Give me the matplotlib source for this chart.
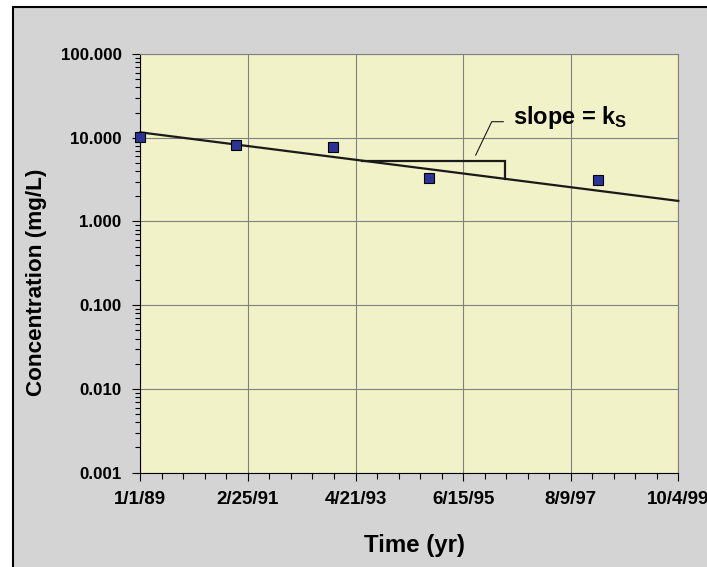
import matplotlib
matplotlib.use('Agg')
import matplotlib.pyplot as plt
import matplotlib.dates as mdates
from matplotlib.ticker import LogLocator, FixedLocator, FixedFormatter, NullFormatter
from matplotlib.patches import Rectangle
import numpy as np

# ---------------- data ----------------
sample_dates = ['1989-01-01', '1990-12-01', '1992-11-10', '1994-10-10', '1998-02-25']
concentration = [10.3, 8.19, 7.69, 3.33, 3.15]
trend_dates = ['1989-01-01', '1999-10-04']
trend_values = [11.6, 1.76]
triangle_dates = ['1993-06-05', '1996-04-19']
x_tick_labels = ['1/1/89', '2/25/91', '4/21/93', '6/15/95', '8/9/97', '10/4/99']
y_tick_values = [0.001, 0.01, 0.1, 1, 10, 100]
y_tick_labels = ['0.001', '0.010', '0.100', '1.000', '10.000', '100.000']
x_title = 'Time (yr)'
y_title = 'Concentration (mg/L)'
annotation_text = r'slope = k$_{\mathrm{S}}$'

# ---------------- style ----------------
plt.rcParams['font.family'] = ['Liberation Sans', 'DejaVu Sans']
plt.rcParams['font.weight'] = 'bold'
plt.rcParams['mathtext.fontset'] = 'custom'
plt.rcParams['mathtext.rm'] = 'Liberation Sans:bold'
plt.rcParams['mathtext.bf'] = 'Liberation Sans:bold'
plt.rcParams['mathtext.it'] = 'Liberation Sans:bold'

W, H = 707, 567
fig = plt.figure(figsize=(W / 100, H / 100), dpi=100, facecolor='white')

# chart-area frame (extends beyond right/bottom edges)
fig.patches.append(Rectangle((13 / W, -0.1), 1.2, 1 - 7 / H + 0.1,
                             transform=fig.transFigure, facecolor='#D4D4D4',
                             edgecolor='black', linewidth=1.5, zorder=-10))

L, R, T, B = 140.3, 678.3, 54.0, 472.7
ax = fig.add_axes([L / W, 1 - B / H, (R - L) / W, (B - T) / H])
ax.set_facecolor('#F2F2C8')

xd = mdates.date2num(np.array(sample_dates, dtype='datetime64[D]'))
td = mdates.date2num(np.array(trend_dates, dtype='datetime64[D]'))
x0, x1 = td[0], td[1]

ax.set_yscale('log')
ax.set_xlim(x0, x1)
ax.set_ylim(y_tick_values[0], y_tick_values[-1])

# ticks
ax.xaxis.set_major_locator(FixedLocator(np.linspace(x0, x1, len(x_tick_labels))))
ax.xaxis.set_major_formatter(FixedFormatter(x_tick_labels))
ax.xaxis.set_minor_locator(FixedLocator(np.linspace(x0, x1, 5 * (len(x_tick_labels) - 1) + 1)))
ax.yaxis.set_major_locator(FixedLocator(y_tick_values))
ax.yaxis.set_major_formatter(FixedFormatter(y_tick_labels))
ax.yaxis.set_minor_locator(LogLocator(base=10, subs=np.arange(2, 10), numticks=20))
ax.yaxis.set_minor_formatter(NullFormatter())

ax.tick_params(axis='x', which='major', direction='out', length=6, width=0.8,
               labelsize=13.5, pad=7, color='black')
ax.tick_params(axis='x', which='minor', direction='out', length=4, width=0.8, color='black')
ax.tick_params(axis='y', which='major', direction='out', length=5.5, width=0.8,
               labelsize=12.2, pad=8, color='black')
ax.tick_params(axis='y', which='minor', direction='out', length=3.5, width=0.8, color='black')
for lab in ax.get_xticklabels() + ax.get_yticklabels():
    lab.set_fontweight('bold')

ax.grid(True, which='major', color='#808080', linewidth=0.8)
ax.set_axisbelow(True)
for s in ['left', 'bottom']:
    ax.spines[s].set_color('black')
    ax.spines[s].set_linewidth(0.8)
for s in ['top', 'right']:
    ax.spines[s].set_color('#808080')
    ax.spines[s].set_linewidth(0.8)

# trend line
ax.plot(td, trend_values, color='#1a1a1a', linewidth=1.6, zorder=4, clip_on=False)

# data points
ax.plot(xd, concentration, linestyle='none', marker='s', markersize=7.8,
        markerfacecolor='#2B3399', markeredgecolor='black', markeredgewidth=0.8,
        zorder=5, clip_on=False)

# slope triangle, anchored to the trend line
trd = mdates.date2num(np.array(triangle_dates, dtype='datetime64[D]'))
logt = np.interp(trd, td, np.log10(trend_values))
tv = 10 ** logt
ax.plot([trd[0], trd[1], trd[1]], [tv[0], tv[0], tv[1]], color='#1a1a1a',
        linewidth=1.6, zorder=4, solid_joinstyle='miter')

# leader line and label
ax.plot([0.6234, 0.6532, 0.6747], [0.7585, 0.8383, 0.8383], transform=ax.transAxes,
        color='#1a1a1a', linewidth=0.8, zorder=4)
ax.text(0.6933, 0.8328, annotation_text, transform=ax.transAxes, fontsize=17,
        fontweight='bold', ha='left', va='baseline', color='black', zorder=6)

# axis titles
fig.text(414.2 / W, 1 - 551.7 / H, x_title, fontsize=17.3, fontweight='bold',
         ha='center', va='baseline')
fig.text(41.7 / W, 1 - 282.3 / H, y_title, fontsize=16.2, fontweight='bold',
         rotation=90, rotation_mode='anchor', ha='center', va='baseline')

fig.savefig('out.png', dpi=100, facecolor='white')
